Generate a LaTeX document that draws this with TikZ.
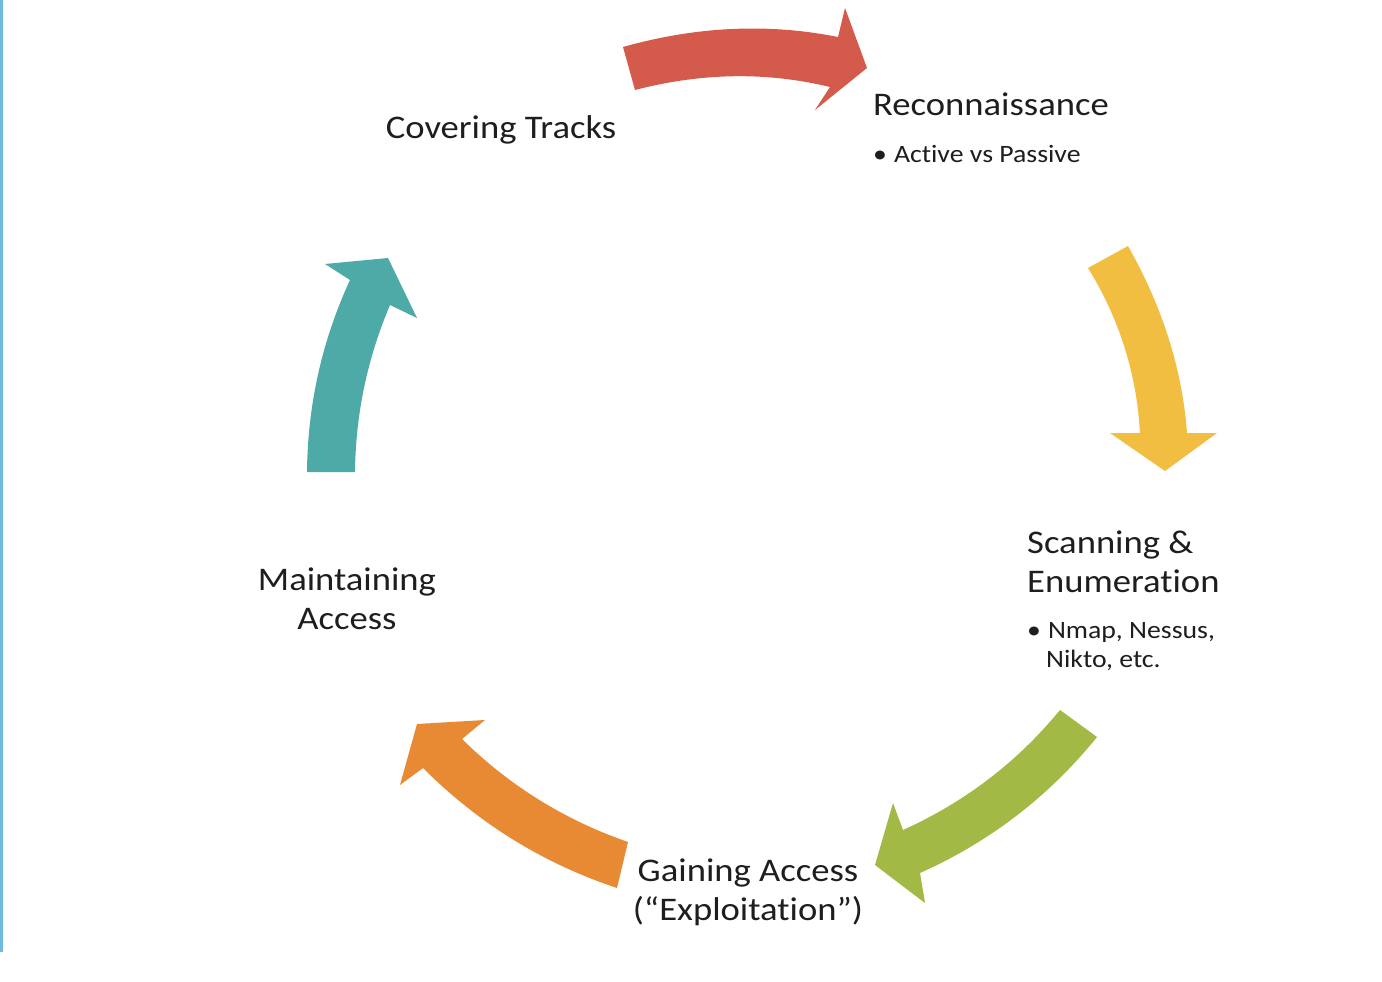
\documentclass[tikz,border=0pt]{standalone}
\usepackage{fontspec}
\usetikzlibrary{calc}
\setmainfont{Carlito}[FakeStretch=1.11, Ligatures=NoCommon]
\definecolor{cred}{RGB}{212,91,75}
\definecolor{cyellow}{RGB}{242,190,66}
\definecolor{cgreen}{RGB}{162,185,69}
\definecolor{corange}{RGB}{232,137,52}
\definecolor{cteal}{RGB}{78,170,167}
\definecolor{ink}{RGB}{30,30,30}
\definecolor{rule}{RGB}{110,185,222}
% quadratic segment from the current point #1 through control #2 to #3
\newcommand{\qto}[3]{.. controls ($(#1)!0.6667!(#2)$) and ($(#3)!0.6667!(#2)$) .. (#3)}
\begin{document}
\begin{tikzpicture}[x=1pt,y=-1pt,
  big/.style={inner sep=0pt, text=ink, font=\fontsize{33}{40}\selectfont},
  small/.style={inner sep=0pt, text=ink, font=\fontsize{25}{30}\selectfont}]
\useasboundingbox (0,0) rectangle (1382,982);
\fill[white] (0,0) rectangle (1382,982);
% thin accent rule along the left margin
\fill[rule] (0,0) rectangle (2.5,952);

% curved block arrows of the cycle
\fill[cred] (623,47) \qto{623,47}{733,16}{838,37} -- (845,8) -- (867,68)
  -- (815,110) -- (830,87) \qto{830,87}{735,64}{635,90} -- cycle;
\fill[cyellow] (1088,268) -- (1128,246) \qto{1128,246}{1180,338}{1187,433}
  -- (1217,433) -- (1165,471) -- (1110,433) -- (1140,433)
  \qto{1140,433}{1135,344}{1088,268} -- cycle;
\fill[cgreen] (1060,710) \qto{1060,710}{996,788}{903,830} -- (893,803)
  -- (875,865) -- (925,903) -- (920,873)
  \qto{920,873}{1025,826}{1097,737} -- cycle;
\fill[corange] (628,842) \qto{628,842}{533,809}{462,739} -- (485,720)
  -- (417,724) -- (400,785) -- (423,768)
  \qto{423,768}{506,851}{617,888} -- cycle;
\fill[cteal] (307,472) \qto{307,472}{308,371}{350,280} -- (325,264)
  -- (388,258) -- (417,318) -- (390,305)
  \qto{390,305}{356,385}{355,472} -- cycle;

% stage labels
\node[big, anchor=base] (cover) at (501,138) {Covering Tracks};
\node[big, anchor=base west] (recon) at (873,115) {Reconnaissance};
\node[small, anchor=base west] (reconb) at (873,162) {•\hspace{7pt}Active vs Passive};
\node[big, anchor=base west] (scan1) at (1027,553) {Scanning \&};
\node[big, anchor=base west] (scan2) at (1027,592) {Enumeration};
\node[small, anchor=base west] (scanb1) at (1027,638) {•\hspace{7pt}Nmap, Nessus,};
\node[small, anchor=base west] (scanb2) at (1046,667) {Nikto, etc.};
\node[big, anchor=base] (gain1) at (748,881) {Gaining Access};
\node[big, anchor=base] (gain2) at (748,920) {(“Exploitation”)};
\node[big, anchor=base] (maint1) at (347,590) {Maintaining};
\node[big, anchor=base] (maint2) at (347,629) {Access};
\end{tikzpicture}
\end{document}
